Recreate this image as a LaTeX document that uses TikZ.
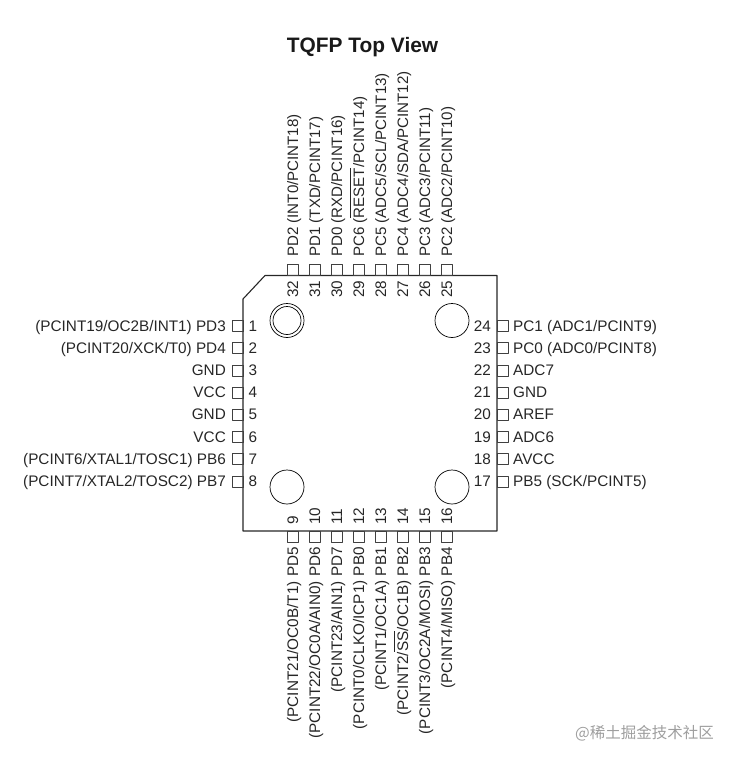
\documentclass[tikz,border=0pt]{standalone}
\usepackage{fontspec}
\setmainfont{Liberation Sans}
\newfontfamily\cjk{Noto Sans CJK SC}
\tikzset{
  pinbox/.style={draw=black!75,line width=0.6pt,minimum size=11pt,inner sep=0pt},
  txt/.style={inner sep=0pt,text=black!85,font=\fontsize{15.3}{16}\selectfont},
  upr/.style={txt,rotate=90,anchor=base west},
  upl/.style={upr,font=\fontsize{15.1}{16}\selectfont},
  dnr/.style={txt,rotate=90,anchor=base east},
  lft/.style={txt,anchor=base east},
  rgt/.style={txt,anchor=base west}
}
\begin{document}
\begin{tikzpicture}[line join=bevel,x=1pt,y=-1pt]
  \useasboundingbox (0,0) rectangle (734,762);

  \coordinate (n0) at (243,299);
  \coordinate (n1) at (265,275.5);
  \coordinate (n2) at (497,275.5);
  \coordinate (n3) at (497,531);
  \coordinate (n4) at (243,531);

  \coordinate (c1) at (287,320.5);
  \coordinate (c2) at (452,320.5);
  \coordinate (c3) at (287,487);
  \coordinate (c4) at (452,487);

  \draw[line width=1.1pt,black!85] (n0) -- (n1) -- (n2) -- (n3) -- (n4) -- cycle;
  \draw[line width=0.7pt] (c1) circle[radius=17];
  \draw[line width=0.7pt] (c1) circle[radius=14];
  \draw[line width=0.7pt] (c2) circle[radius=17];
  \draw[line width=0.7pt] (c3) circle[radius=17];
  \draw[line width=0.7pt] (c4) circle[radius=17];

  \node[inner sep=0pt,font=\fontsize{20.9}{21}\selectfont\bfseries,text=black!90] (title) at (362.5,47) {TQFP Top View};

  % left side
  \node[pinbox] (p1) at (237.5,326) {};
  \node[pinbox] (p2) at (237.5,348.2) {};
  \node[pinbox] (p3) at (237.5,370.4) {};
  \node[pinbox] (p4) at (237.5,392.6) {};
  \node[pinbox] (p5) at (237.5,414.8) {};
  \node[pinbox] (p6) at (237.5,437) {};
  \node[pinbox] (p7) at (237.5,459.2) {};
  \node[pinbox] (p8) at (237.5,481.4) {};
  \node[rgt] (t1) at (248.5,331) {1};
  \node[rgt] (t2) at (248.5,353.2) {2};
  \node[rgt] (t3) at (248.5,375.4) {3};
  \node[rgt] (t4) at (248.5,397.6) {4};
  \node[rgt] (t5) at (248.5,419.8) {5};
  \node[rgt] (t6) at (248.5,442) {6};
  \node[rgt] (t7) at (248.5,464.2) {7};
  \node[rgt] (t8) at (248.5,486.4) {8};
  \node[lft] (l1) at (226,331) {(PCINT19/OC2B/INT1) PD3};
  \node[lft] (l2) at (226,353.2) {(PCINT20/XCK/T0) PD4};
  \node[lft] (l3) at (226,375.4) {GND};
  \node[lft] (l4) at (226,397.6) {VCC};
  \node[lft] (l5) at (226,419.8) {GND};
  \node[lft] (l6) at (226,442) {VCC};
  \node[lft] (l7) at (226,464.2) {(PCINT6/XTAL1/TOSC1) PB6};
  \node[lft] (l8) at (226,486.4) {(PCINT7/XTAL2/TOSC2) PB7};

  % bottom side
  \node[pinbox] (p9) at (292.5,536.5) {};
  \node[pinbox] (p10) at (314.5,536.5) {};
  \node[pinbox] (p11) at (336.5,536.5) {};
  \node[pinbox] (p12) at (358.5,536.5) {};
  \node[pinbox] (p13) at (380.5,536.5) {};
  \node[pinbox] (p14) at (402.5,536.5) {};
  \node[pinbox] (p15) at (424.5,536.5) {};
  \node[pinbox] (p16) at (446.5,536.5) {};
  \node[upr] (t9) at (298,525) {9};
  \node[upr] (t10) at (320,525) {10};
  \node[upr] (t11) at (342,525) {11};
  \node[upr] (t12) at (364,525) {12};
  \node[upr] (t13) at (386,525) {13};
  \node[upr] (t14) at (408,525) {14};
  \node[upr] (t15) at (430,525) {15};
  \node[upr] (t16) at (452,525) {16};
  \node[dnr] (l9) at (298,547) {(PCINT21/OC0B/T1) PD5};
  \node[dnr] (l10) at (320,547) {(PCINT22/OC0A/AIN0) PD6};
  \node[dnr] (l11) at (342,547) {(PCINT23/AIN1) PD7};
  \node[dnr] (l12) at (364,547) {(PCINT0/CLKO/ICP1) PB0};
  \node[dnr] (l13) at (386,547) {(PCINT1/OC1A) PB1};
  \node[dnr] (l14) at (408,547) {(PCINT2/$\overline{\mbox{\rule{0pt}{12.6pt}SS}}$/OC1B) PB2};
  \node[dnr] (l15) at (430,547) {(PCINT3/OC2A/MOSI) PB3};
  \node[dnr] (l16) at (452,547) {(PCINT4/MISO) PB4};

  % right side
  \node[pinbox] (p17) at (502.5,481.4) {};
  \node[pinbox] (p18) at (502.5,459.2) {};
  \node[pinbox] (p19) at (502.5,437) {};
  \node[pinbox] (p20) at (502.5,414.8) {};
  \node[pinbox] (p21) at (502.5,392.6) {};
  \node[pinbox] (p22) at (502.5,370.4) {};
  \node[pinbox] (p23) at (502.5,348.2) {};
  \node[pinbox] (p24) at (502.5,326) {};
  \node[lft] (t17) at (491,486.4) {17};
  \node[lft] (t18) at (491,464.2) {18};
  \node[lft] (t19) at (491,442) {19};
  \node[lft] (t20) at (491,419.8) {20};
  \node[lft] (t21) at (491,397.6) {21};
  \node[lft] (t22) at (491,375.4) {22};
  \node[lft] (t23) at (491,353.2) {23};
  \node[lft] (t24) at (491,331) {24};
  \node[rgt] (l17) at (513,486.4) {PB5 (SCK/PCINT5)};
  \node[rgt] (l18) at (513,464.2) {AVCC};
  \node[rgt] (l19) at (513,442) {ADC6};
  \node[rgt] (l20) at (513,419.8) {AREF};
  \node[rgt] (l21) at (513,397.6) {GND};
  \node[rgt] (l22) at (513,375.4) {ADC7};
  \node[rgt] (l23) at (513,353.2) {PC0 (ADC0/PCINT8)};
  \node[rgt] (l24) at (513,331) {PC1 (ADC1/PCINT9)};

  % top side
  \node[pinbox] (p25) at (446.5,269.5) {};
  \node[pinbox] (p26) at (424.5,269.5) {};
  \node[pinbox] (p27) at (402.5,269.5) {};
  \node[pinbox] (p28) at (380.5,269.5) {};
  \node[pinbox] (p29) at (358.5,269.5) {};
  \node[pinbox] (p30) at (336.5,269.5) {};
  \node[pinbox] (p31) at (314.5,269.5) {};
  \node[pinbox] (p32) at (292.5,269.5) {};
  \node[upr] (t25) at (452,298) {25};
  \node[upr] (t26) at (430,298) {26};
  \node[upr] (t27) at (408,298) {27};
  \node[upr] (t28) at (386,298) {28};
  \node[upr] (t29) at (364,298) {29};
  \node[upr] (t30) at (342,298) {30};
  \node[upr] (t31) at (320,298) {31};
  \node[upr] (t32) at (298,298) {32};
  \node[upl] (l25) at (452,257) {PC2 (ADC2/PCINT10)};
  \node[upl] (l26) at (430,257) {PC3 (ADC3/PCINT11)};
  \node[upl] (l27) at (408,257) {PC4 (ADC4/SDA/PCINT12)};
  \node[upl] (l28) at (386,257) {PC5 (ADC5/SCL/PCINT13)};
  \node[upl] (l29) at (364,257) {PC6 ($\overline{\mbox{\rule{0pt}{12.6pt}RESET}}$/PCINT14)};
  \node[upl] (l30) at (342,257) {PD0 (RXD/PCINT16)};
  \node[upl] (l31) at (320,257) {PD1 (TXD/PCINT17)};
  \node[upl] (l32) at (298,257) {PD2 (INT0/PCINT18)};

  \node[inner sep=0pt,anchor=east,text=black!38,font=\fontsize{15.5}{16}\selectfont\cjk] (mark) at (714,733) {@稀土掘金技术社区};
\end{tikzpicture}
\end{document}
